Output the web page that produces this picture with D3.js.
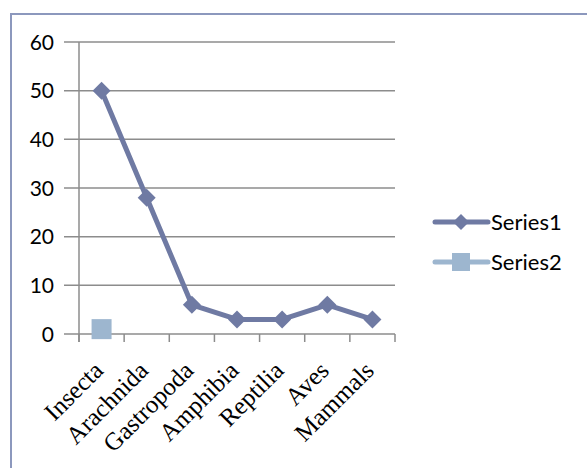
<!DOCTYPE html>
<html><head><meta charset="utf-8">
<script src="https://cdn.jsdelivr.net/npm/d3@7"></script>
<style>body{margin:0;background:#fff}svg{display:block}</style>
</head><body>
<svg id="c" width="587" height="468"></svg>
<script>
const categories = ["Insecta","Arachnida","Gastropoda","Amphibia","Reptilia","Aves","Mammals"];
const series1 = [50, 28, 6, 3, 3, 6, 3];
const series2 = [1, null, null, null, null, null, null];
const seriesNames = ["Series1","Series2"];
const yTicks = [0,10,20,30,40,50,60];

const svg = d3.select("#c");
const c1 = "#6f7aa3", c2 = "#9db6cf";
svg.append("rect").attr("x",11).attr("y",14).attr("width",620).attr("height",520)
  .attr("fill","none").attr("stroke","#8c98bd").attr("stroke-width",2);

const x = d3.scaleBand().domain(categories).range([79,395]);
const y = d3.scaleLinear().domain([0,60]).range([334,42]);

const g = svg.append("g");
g.selectAll("line.grid").data(yTicks).join("line")
  .attr("x1",64).attr("x2",395).attr("y1",d=>y(d)).attr("y2",d=>y(d))
  .attr("stroke","#8c8c8c").attr("stroke-width",1.5);
g.append("line").attr("x1",79).attr("x2",79).attr("y1",y(60)).attr("y2",y(0)+8)
  .attr("stroke","#8c8c8c").attr("stroke-width",1.5);
const xt = categories.map(c=>x(c)).concat([x(categories[categories.length-1])+x.bandwidth()]);
g.selectAll("line.xt").data(xt).join("line")
  .attr("x1",d=>d).attr("x2",d=>d).attr("y1",y(0)).attr("y2",y(0)+8)
  .attr("stroke","#8c8c8c").attr("stroke-width",1.5);
g.selectAll("text.yl").data(yTicks).join("text")
  .attr("x",54).attr("y",d=>y(d)).attr("dy","0.36em").attr("text-anchor","end")
  .attr("font-family","Lato, 'Open Sans', sans-serif").attr("font-size",21).attr("fill","#000")
  .text(d=>d);
g.selectAll("text.xl").data(categories).join("text")
  .attr("transform",d=>`translate(${x(d)+x.bandwidth()/2+3},${y(0)+38}) rotate(-45)`)
  .attr("text-anchor","end")
  .attr("font-family","'Liberation Serif', 'Times New Roman', serif").attr("font-size",25).attr("fill","#000")
  .text(d=>d);

const cx = d=>x(d)+x.bandwidth()/2;
const pts1 = categories.map((c,i)=>({c,v:series1[i]})).filter(d=>d.v!=null);
g.append("path").datum(pts1)
  .attr("d",d3.line().x(d=>cx(d.c)).y(d=>y(d.v)))
  .attr("fill","none").attr("stroke",c1).attr("stroke-width",5).attr("stroke-linejoin","round");
const diamond = s=>`M0,${-s}L${s},0L0,${s}L${-s},0Z`;
g.selectAll("path.m1").data(pts1).join("path")
  .attr("d",diamond(9)).attr("transform",d=>`translate(${cx(d.c)},${y(d.v)})`).attr("fill",c1);
const pts2 = categories.map((c,i)=>({c,v:series2[i]})).filter(d=>d.v!=null);
g.selectAll("rect.m2").data(pts2).join("rect")
  .attr("x",d=>cx(d.c)-10).attr("y",d=>y(d.v)-10).attr("width",20).attr("height",20).attr("fill",c2);

const lg = svg.append("g");
seriesNames.forEach((n,i)=>{
  const ly = 222 + i*40, col = i===0?c1:c2;
  lg.append("line").attr("x1",435).attr("x2",488).attr("y1",ly).attr("y2",ly)
    .attr("stroke",col).attr("stroke-width",5).attr("stroke-linecap","round");
  if(i===0) lg.append("path").attr("d",diamond(8)).attr("transform",`translate(461,${ly})`).attr("fill",col);
  else lg.append("rect").attr("x",452).attr("y",ly-9).attr("width",18).attr("height",18).attr("fill",col);
  lg.append("text").attr("x",491).attr("y",ly).attr("dy","0.36em")
    .attr("font-family","Lato, 'Open Sans', sans-serif").attr("font-size",22).attr("fill","#000").text(n);
});
</script>
</body></html>
